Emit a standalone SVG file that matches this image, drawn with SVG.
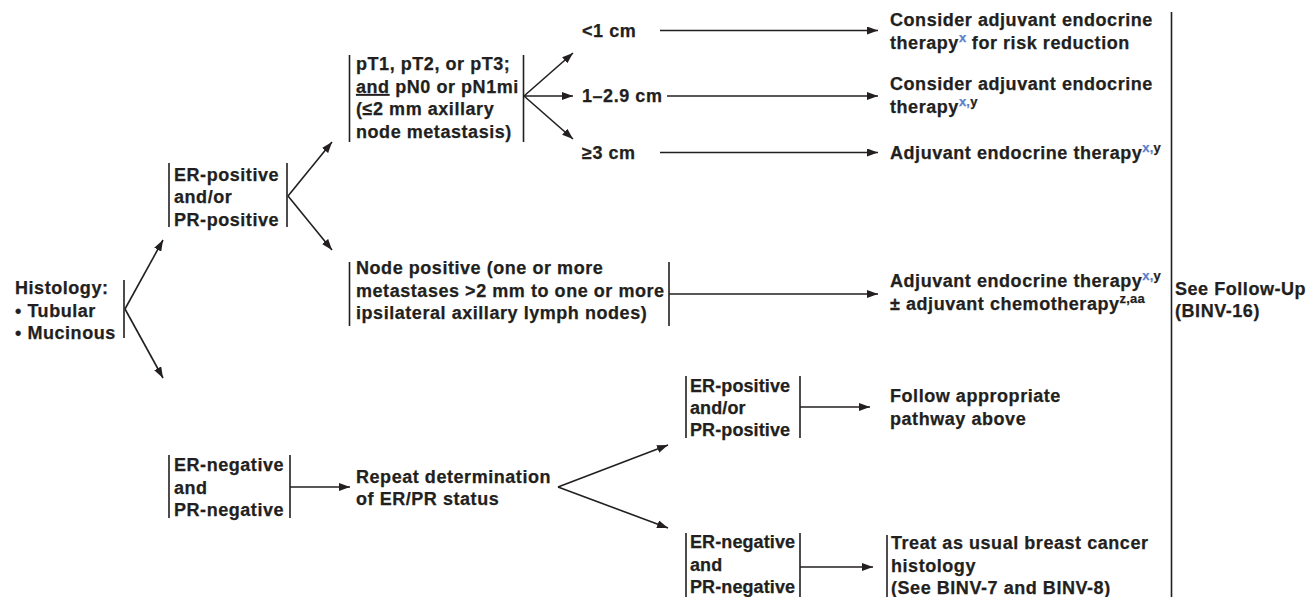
<svg xmlns="http://www.w3.org/2000/svg" width="1308" height="597" viewBox="0 0 1308 597">
<style>
.t{font-family:"Liberation Sans",Arial,sans-serif;font-weight:bold;font-size:18px;fill:#231f20;letter-spacing:0.55px;stroke:#231f20;stroke-width:0.25}
.n{letter-spacing:0.1px}
.s{font-size:13px;letter-spacing:0.2px}
.b{fill:#5b7fcc;stroke:#5b7fcc}
.ln{stroke:#231f20;stroke-width:1.6;fill:none}
.ar{stroke:#231f20;stroke-width:1.6;fill:none;marker-end:url(#ah)}
</style>
<defs>
<marker id="ah" markerUnits="userSpaceOnUse" markerWidth="11" markerHeight="8" refX="11" refY="4" orient="auto">
<path d="M0,0 L11,4 L0,8 z" fill="#231f20"/>
</marker>
</defs>
<rect width="1308" height="597" fill="#ffffff"/>

<g id="connectors">
<line class="ln" x1="124" y1="280" x2="124" y2="338"/>
<line class="ar" x1="125" y1="309" x2="163" y2="240"/>
<line class="ar" x1="125" y1="309" x2="163" y2="378"/>
<line class="ln" x1="169" y1="163" x2="169" y2="227"/>
<line class="ln" x1="287" y1="163" x2="287" y2="227"/>
<line class="ar" x1="288" y1="196" x2="332" y2="142"/>
<line class="ar" x1="288" y1="196" x2="332" y2="250"/>
<line class="ln" x1="349.5" y1="55" x2="349.5" y2="142"/>
<line class="ln" x1="523.5" y1="55" x2="523.5" y2="142"/>
<line class="ar" x1="524" y1="96" x2="573" y2="53"/>
<line class="ar" x1="524" y1="96" x2="573" y2="96"/>
<line class="ar" x1="524" y1="96" x2="573" y2="139"/>
<line class="ar" x1="660" y1="30.5" x2="878" y2="30.5"/>
<line class="ar" x1="667" y1="96" x2="878" y2="96"/>
<line class="ar" x1="660" y1="152.5" x2="878" y2="152.5"/>
<line class="ln" x1="349.5" y1="262" x2="349.5" y2="326"/>
<line class="ln" x1="669" y1="262" x2="669" y2="326"/>
<line class="ar" x1="669" y1="294" x2="878" y2="294"/>
<line class="ln" x1="169" y1="455" x2="169" y2="518"/>
<line class="ln" x1="290" y1="455" x2="290" y2="518"/>
<line class="ar" x1="290" y1="487" x2="350" y2="487"/>
<line class="ar" x1="558" y1="487" x2="668" y2="445"/>
<line class="ar" x1="558" y1="487" x2="668" y2="528"/>
<line class="ln" x1="686" y1="376" x2="686" y2="438"/>
<line class="ln" x1="800" y1="376" x2="800" y2="438"/>
<line class="ar" x1="800" y1="407" x2="870" y2="407"/>
<line class="ln" x1="686" y1="533" x2="686" y2="597"/>
<line class="ln" x1="800" y1="533" x2="800" y2="597"/>
<line class="ar" x1="800" y1="567" x2="873" y2="567"/>
<line class="ln" x1="887" y1="535" x2="887" y2="597"/>
<line class="ln" x1="1171.5" y1="12" x2="1171.5" y2="597"/>
</g>

<g id="histology">
<text class="t" x="15" y="294">Histology:</text>
<text class="t" x="15" y="317">• Tubular</text>
<text class="t" x="15" y="339">• Mucinous</text>
</g>

<g id="er-pos-1">
<text class="t" x="174" y="181">ER-positive</text>
<text class="t" x="174" y="203">and/or</text>
<text class="t" x="174" y="226">PR-positive</text>
</g>

<g id="pt-node">
<text class="t" x="356" y="70">pT1, pT2, or pT3;</text>
<text class="t" x="356" y="93"><tspan text-decoration="underline">and</tspan> pN0 or pN1mi</text>
<text class="t" x="356" y="115">(≤2 mm axillary</text>
<text class="t" x="356" y="138">node metastasis)</text>
</g>

<g id="lt1">
<text class="t" x="582" y="37">&lt;1 cm</text>
</g>
<g id="r1-29">
<text class="t" x="582" y="102">1–2.9 cm</text>
</g>
<g id="ge3">
<text class="t" x="582" y="159">≥3 cm</text>
</g>

<g id="out-lt1">
<text class="t" x="890" y="26">Consider adjuvant endocrine</text>
<text class="t" x="890" y="49">therapy<tspan class="s b" dy="-7">x</tspan><tspan dy="7"> for risk reduction</tspan></text>
</g>
<g id="out-129">
<text class="t" x="890" y="90">Consider adjuvant endocrine</text>
<text class="t" x="890" y="113">therapy<tspan class="s b" dy="-7">x,</tspan><tspan class="s">y</tspan></text>
</g>
<g id="out-ge3">
<text class="t" x="890" y="159">Adjuvant endocrine therapy<tspan class="s b" dy="-7">x,</tspan><tspan class="s">y</tspan></text>
</g>

<g id="node-pos">
<text class="t" x="356" y="274">Node positive (one or more</text>
<text class="t" x="356" y="297">metastases &gt;2 mm to one or more</text>
<text class="t" x="356" y="319">ipsilateral axillary lymph nodes)</text>
</g>

<g id="out-nodepos">
<text class="t" x="890" y="287">Adjuvant endocrine therapy<tspan class="s b" dy="-7">x,</tspan><tspan class="s">y</tspan></text>
<text class="t" x="890" y="310">± adjuvant chemotherapy<tspan class="s" dy="-7">z,aa</tspan></text>
</g>

<g id="follow-up">
<text class="t" x="1175" y="295">See Follow-Up</text>
<text class="t" x="1175" y="317">(BINV-16)</text>
</g>

<g id="er-neg-1">
<text class="t" x="174" y="471">ER-negative</text>
<text class="t" x="174" y="494">and</text>
<text class="t" x="174" y="516">PR-negative</text>
</g>

<g id="repeat">
<text class="t" x="356" y="483">Repeat determination</text>
<text class="t" x="356" y="505">of ER/PR status</text>
</g>

<g id="er-pos-2">
<text class="t n" x="690" y="392">ER-positive</text>
<text class="t n" x="690" y="414">and/or</text>
<text class="t n" x="690" y="436">PR-positive</text>
</g>

<g id="follow-path">
<text class="t" x="890" y="402">Follow appropriate</text>
<text class="t" x="890" y="425">pathway above</text>
</g>

<g id="er-neg-2">
<text class="t n" x="690" y="548">ER-negative</text>
<text class="t n" x="690" y="571">and</text>
<text class="t n" x="690" y="593">PR-negative</text>
</g>

<g id="treat">
<text class="t" x="891" y="549">Treat as usual breast cancer</text>
<text class="t" x="891" y="572">histology</text>
<text class="t" x="891" y="594">(See BINV-7 and BINV-8)</text>
</g>
</svg>
